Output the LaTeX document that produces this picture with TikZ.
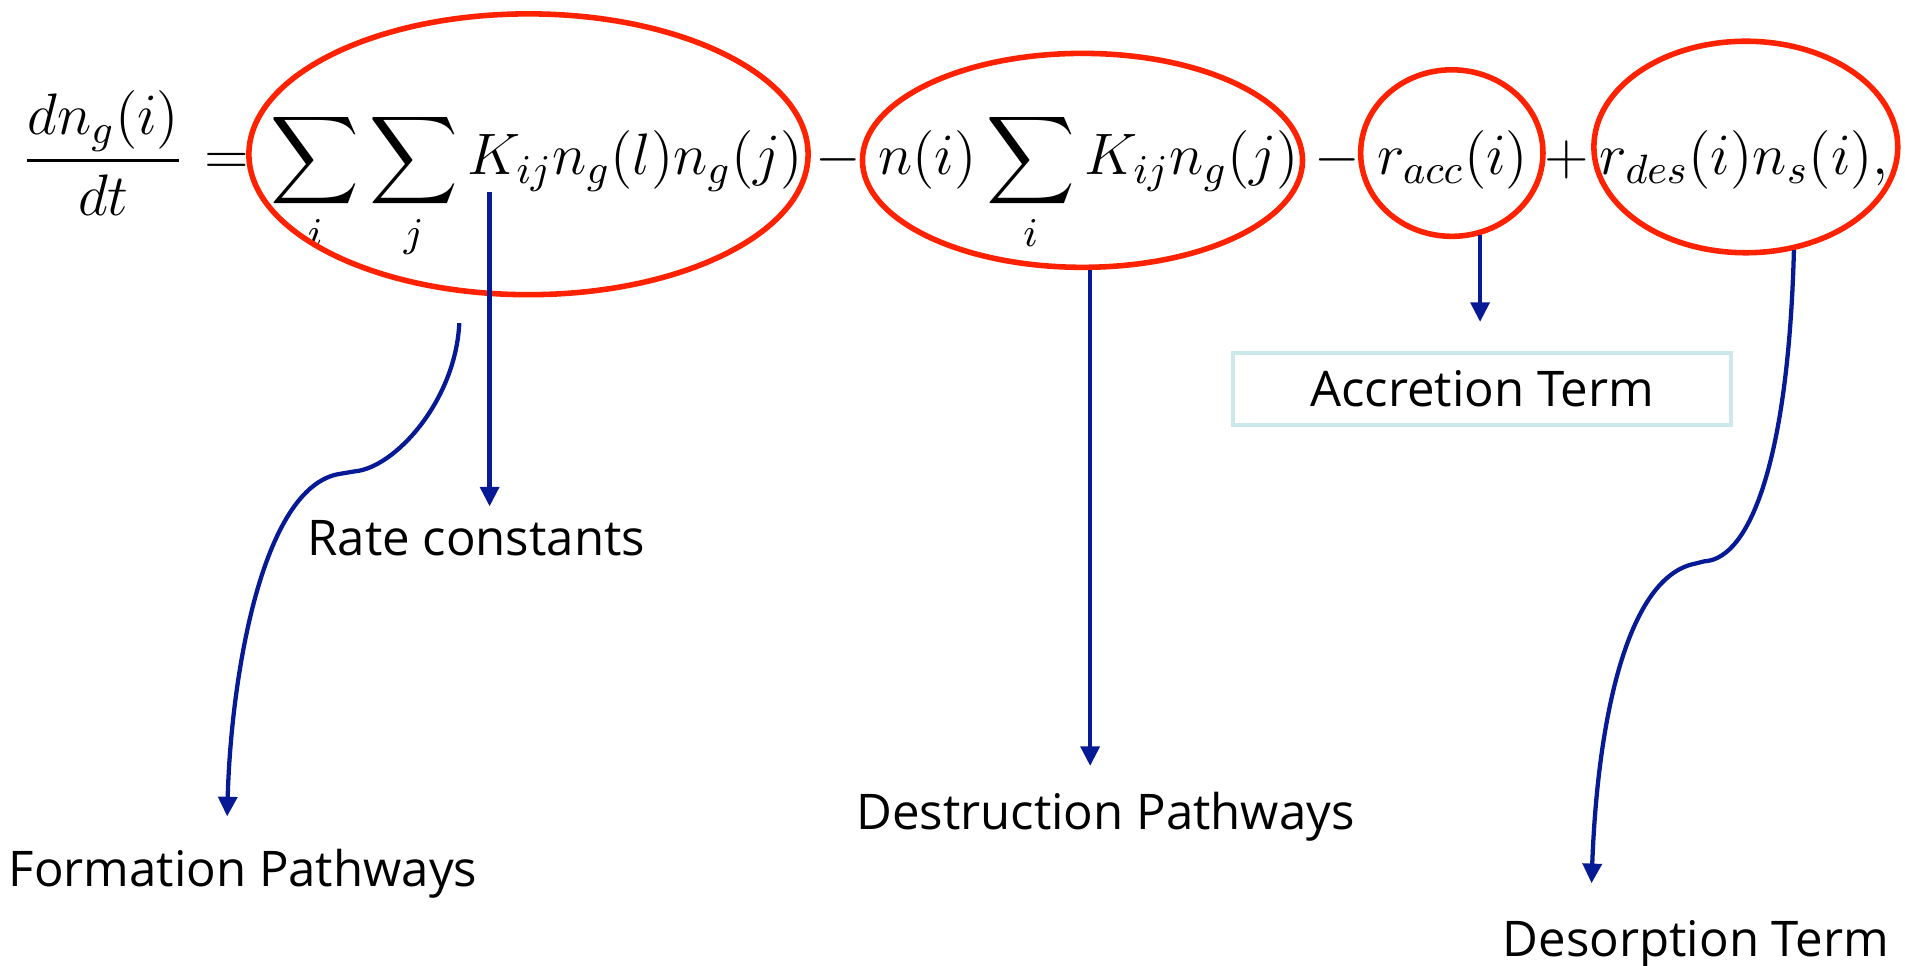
\RequirePackage{fix-cm}
\documentclass[tikz,border=0pt]{standalone}
\usepackage{amsmath}
\usepackage[no-math]{fontspec}
\newfontfamily\lblfont{Open Sans}
\usetikzlibrary{arrows.meta,shapes.geometric}
\definecolor{eqRed}{HTML}{FF2200}
\definecolor{eqBlue}{HTML}{061A96}
\definecolor{eqCyan}{HTML}{CDE8EA}
\tikzset{
  eq math/.style={inner sep=0pt, font=\fontsize{13.7}{16}\selectfont},
  eq ring/.style={ellipse, draw=eqRed, line width=1.3pt, inner sep=0pt},
  eq arrow/.style={draw=eqBlue, line width=1pt, -{Triangle[length=4.6pt,width=4.4pt]}},
  eq label/.style={font=\lblfont\fontsize{11.5}{14}\selectfont, inner sep=3pt},
  eq box/.style={eq label, draw=eqCyan, line width=0.9pt, minimum width=4.1cm, minimum height=0.59cm},
}

\begin{document}
\begin{tikzpicture}[x=0.01cm, y=-0.01cm]
  \useasboundingbox (0,0) rectangle (1568,795);
  % The rate equation, one node per term
  \node[eq math, anchor=base] (frac) at (85,144) {$\displaystyle\frac{dn_g(i)}{dt}$};
  \node[eq math, anchor=base] (eqs) at (187,144) {$=$};
  \node[eq math, anchor=base west] (form) at (222,144) {$\displaystyle\sum_i\sum_j K_{ij}n_g(l)n_g(j)$};
  \node[eq math, anchor=base] (mnsA) at (690,144) {$-$};
  \node[eq math, anchor=base west] (dest) at (722,144) {$\displaystyle n(i)\sum_i K_{ij}n_g(j)$};
  \node[eq math, anchor=base] (mnsB) at (1101,144) {$-$};
  \node[eq math, anchor=base west] (acc) at (1133,144) {$r_{acc}(i)$};
  \node[eq math, anchor=base] (pls) at (1290,144) {$+$};
  \node[eq math, anchor=base west] (des) at (1316,144) {$r_{des}(i)n_s(i),$};
  % Red rings round the terms
  \node[eq ring, minimum width=4.6cm, minimum height=2.31cm] (formRing) at (435,127) {};
  \node[eq ring, minimum width=3.62cm, minimum height=1.76cm] (destRing) at (891,132) {};
  \node[eq ring, minimum width=1.5cm, minimum height=1.37cm] (accRing) at (1195,126) {};
  \node[eq ring, minimum width=2.5cm, minimum height=1.74cm] (desRing) at (1437,121) {};
  % Labels
  \node[eq label, anchor=base] (rateLbl) at (392,457) {Rate constants};
  \node[eq label, anchor=base] (formLbl) at (200,730) {Formation Pathways};
  \node[eq label, anchor=base] (destLbl) at (910,683) {Destruction Pathways};
  \node[eq box] (accLbl) at (1220,320) {Accretion Term};
  \node[eq label, anchor=base] (desLbl) at (1396,787) {Desorption Term};
  % Blue pointers
  \coordinate (kFoot) at (403,158);
  \coordinate (formTip) at (187,672);
  \coordinate (desTip) at (1310,727);
  \draw[eq arrow] (kFoot) -- (kFoot |- rateLbl.north);
  \draw[eq arrow, shorten <=7pt] (formRing.-116) .. controls (375,330) and (325,385) .. (292,388)
    -- (280,390) .. controls (215,400) and (190,560) .. (formTip);
  \draw[eq arrow] (destRing.-86) -- ([yshift=3pt]destRing.-86 |- destLbl.north);
  \draw[eq arrow, shorten >=6.8pt] (accRing.-71) -- (accRing.-71 |- accLbl.north);
  \draw[eq arrow] (desRing.-65) .. controls (1472,380) and (1440,460) .. (1403,462)
    -- (1395,464) .. controls (1340,475) and (1315,590) .. (desTip);
\end{tikzpicture}
\end{document}
